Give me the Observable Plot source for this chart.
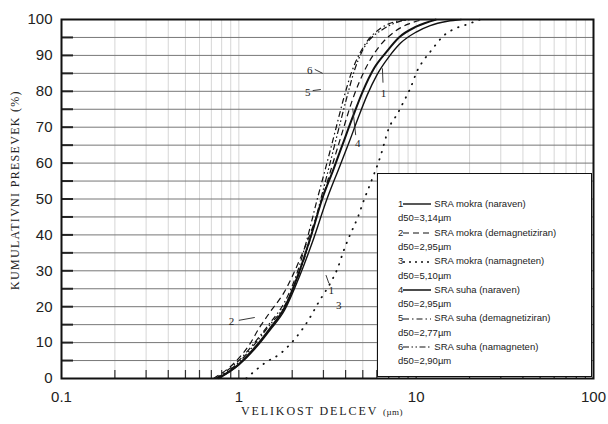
<!DOCTYPE html>
<html>
<head>
<meta charset="utf-8">
<script src="https://cdn.jsdelivr.net/npm/d3@7"></script>
<script src="https://cdn.jsdelivr.net/npm/@observablehq/plot@0.6"></script>
<style>
  html, body { margin: 0; padding: 0; background: #fff; }
  #wrap { position: relative; width: 608px; height: 424px; overflow: hidden; font-family: "Liberation Sans", Arial, sans-serif; }
  #ylab { position: absolute; left: 15px; top: 190px; transform: translate(-50%, -50%) rotate(-90deg); white-space: nowrap;
          font-family: "Liberation Serif", "Times New Roman", serif; font-size: 12px; letter-spacing: 1.3px; color: #222; }
  #xlab { position: absolute; left: 322px; top: 411px; transform: translate(-50%, -50%); white-space: nowrap;
          font-family: "Liberation Serif", "Times New Roman", serif; font-size: 12px; letter-spacing: 1.9px; color: #222; }
  #xlab small { font-size: 9px; letter-spacing: 0.5px; }
  #legend { position: absolute; left: 377px; top: 173px; width: 215px; height: 204px; background: #fff;
            border: 1.5px solid #111; box-sizing: border-box; font-size: 9.5px; color: #222; }
  .row { position: absolute; left: 20px; height: 12px; line-height: 12px; white-space: nowrap; }
  .row svg { vertical-align: middle; }
</style>
</head>
<body>
<div id="wrap">
  <div id="chart"></div>
  <div id="ylab">KUMULATIVNI PRESEVEK (%)</div>
  <div id="xlab">VELIKOST DELCEV <small>(µm)</small></div>
  <div id="legend"></div>
</div>
<script>
// ---- data ----
const seriesNames = ["1", "2", "3", "4", "5", "6"];
const legendLabels = [
  "SRA mokra (naraven)", "SRA mokra (demagnetiziran)", "SRA mokra (namagneten)",
  "SRA suha (naraven)", "SRA suha (demagnetiziran)", "SRA suha (namagneten)"
];
const d50Labels = ["d50=3,14µm", "d50=2,95µm", "d50=5,10µm", "d50=2,95µm", "d50=2,77µm", "d50=2,90µm"];

const size1 = [0.77, 1.0, 1.25, 1.5, 1.8, 2.2, 2.6, 3.14, 3.7, 4.2, 4.7, 5.3, 6.0, 7.0, 8.2, 10, 12, 15, 18];
const pct1  = [0, 3.8, 8.6, 13.5, 18.8, 28.5, 38, 50, 59, 66, 72.5, 79, 84.5, 89.5, 93.5, 96.5, 98.3, 99.5, 100];

const size2 = [0.72, 0.95, 1.15, 1.3, 1.5, 1.8, 2.2, 2.6, 2.95, 3.3, 3.8, 4.4, 5.2, 6.2, 7.5, 9, 11];
const pct2  = [0, 4.5, 9.5, 14, 18.5, 24, 33, 42, 50, 58, 68, 78, 86.5, 92.5, 96.5, 98.7, 100];

const size3 = [1.1, 1.42, 1.72, 1.9, 2.1, 2.45, 2.8, 3.4, 3.6, 3.9, 4.27, 4.68, 5.1, 5.55, 6.3, 7.0, 7.9, 8.4, 9.3, 10.2, 11, 12, 14.3, 16.6, 19, 23];
const pct3  = [0, 4.5, 7, 9, 11.4, 16, 21, 28, 30.6, 35.6, 40.4, 44.8, 50, 54.6, 62, 69.6, 74, 76.6, 81, 86, 88.6, 91, 95.5, 97.5, 98.5, 100];

const size4 = [0.76, 1.0, 1.25, 1.5, 1.8, 2.2, 2.6, 2.95, 3.4, 3.9, 4.4, 5.0, 5.8, 6.8, 8, 10, 13];
const pct4  = [0, 4, 9, 14, 19.5, 30, 41, 50, 58, 66, 73, 80, 86.5, 91, 95, 98, 100];

const size5 = [0.74, 1.0, 1.25, 1.5, 1.8, 2.1, 2.4, 2.77, 3.1, 3.5, 3.9, 4.3, 4.8, 5.3, 6.2, 7.5, 9];
const pct5  = [0, 5, 10.5, 15.5, 21, 28.5, 38, 50, 59, 69, 78, 85, 90.5, 94, 97.3, 99.3, 100];

const size6 = [0.75, 1.0, 1.25, 1.5, 1.8, 2.1, 2.5, 2.9, 3.25, 3.7, 4.1, 4.5, 5.0, 5.5, 6.5, 8, 9.5];
const pct6  = [0, 4.5, 10, 15, 20, 27, 38, 50, 59.5, 70.5, 79, 86, 91.5, 94.5, 97.3, 99.4, 100];

const xTicks = [0.1, 1, 10, 100];
const yTicks = [0, 10, 20, 30, 40, 50, 60, 70, 80, 90, 100];
const yGrid = [5, 10, 15, 20, 25, 30, 35, 40, 45, 50, 55, 60, 65, 70, 75, 80, 85, 90, 95];
const xMinor = [0.2,0.3,0.4,0.5,0.6,0.7,0.8,0.9,1,2,3,4,5,6,7,8,9,10,20,30,40,50,60,70,80,90];

// in-chart annotation labels (data coordinates)
const annotText = ["1", "4", "6", "5", "2", "1", "3"];
const annotX = [6.55, 4.68, 2.51, 2.45, 0.91, 3.32, 3.66];
const annotY = [79.5, 65.5, 85.8, 79.7, 15.9, 24.5, 20.3];
const leaderX1 = [6.45, 4.39, 2.68, 2.61, 1.0, 3.1];
const leaderY1 = [86.4, 75.2, 86.1, 80.2, 16.2, 28.8];
const leaderX2 = [6.5, 4.56, 2.97, 2.9, 1.23, 3.22];
const leaderY2 = [82.4, 67.8, 85.0, 80.5, 17.0, 26.5];

// ---- styling per series ----
const styles = {
  "1": {strokeWidth: 1.4, dash: null},
  "2": {strokeWidth: 1.2, dash: "6,4"},
  "3": {strokeWidth: 1.8, dash: "0.5,7", cap: "round"},
  "4": {strokeWidth: 2.0, dash: null},
  "5": {strokeWidth: 1.2, dash: "6,3,1.5,3"},
  "6": {strokeWidth: 1.2, dash: "6,2.5,1.5,2.5,1.5,2.5"}
};

const sizes = [size1, size2, size3, size4, size5, size6];
const pcts = [pct1, pct2, pct3, pct4, pct5, pct6];
const rows = [];
seriesNames.forEach((s, i) => sizes[i].forEach((x, j) => rows.push({series: s, x, y: pcts[i][j]})));

const annots = annotText.map((t, i) => ({t, x: annotX[i], y: annotY[i]}));
const leaders = leaderX1.map((x1, i) => ({x1, y1: leaderY1[i], x2: leaderX2[i], y2: leaderY2[i]}));

const lineMarks = seriesNames.map(s => Plot.line(rows.filter(r => r.series === s), {
  x: "x", y: "y", curve: "monotone-x", stroke: "#111",
  strokeWidth: styles[s].strokeWidth,
  strokeDasharray: styles[s].dash,
  strokeLinecap: styles[s].cap || "butt"
}));

const chart = Plot.plot({
  width: 608,
  height: 424,
  marginLeft: 61,
  marginRight: 15,
  marginTop: 19,
  marginBottom: 46,
  style: {fontFamily: "'Liberation Sans', Arial, sans-serif", fontSize: "15px", color: "#222", background: "#fff"},
  x: {type: "log", domain: [0.1, 100], ticks: xTicks, tickFormat: d => String(d), tickSize: 0, tickPadding: 13, label: null},
  y: {domain: [0, 100], ticks: yTicks, tickSize: 0, tickPadding: 9, label: null},
  marks: [
    Plot.ruleX(xMinor, {stroke: "#c4c4c4", strokeWidth: 0.7}),
    Plot.ruleY(yGrid, {stroke: "#777", strokeWidth: 1}),
    Plot.tickY(yGrid, {y: d => d, insetRight: 520, stroke: "#222", strokeWidth: 2}),
    Plot.tickX(xMinor, {x: d => d, insetTop: 351, stroke: "#333", strokeWidth: 1.2}),
    ...lineMarks,
    Plot.link(leaders, {x1: "x1", y1: "y1", x2: "x2", y2: "y2", stroke: "#222", strokeWidth: 0.9}),
    Plot.text(annots, {x: "x", y: "y", text: "t", fontSize: 11, fontFamily: "'Liberation Serif', serif", fill: "#222"}),
    Plot.frame({stroke: "#111", strokeWidth: 2})
  ]
});
document.getElementById("chart").appendChild(chart);

// ---- legend ----
const legend = document.getElementById("legend");
const rowTop0 = 24, rowStep = 14.3;
seriesNames.forEach((s, i) => {
  const st = styles[s];
  const r1 = document.createElement("div");
  r1.className = "row";
  r1.style.top = (rowTop0 + rowStep * 2 * i) + "px";
  r1.innerHTML = `<span>${s}</span><svg width="29" height="6" style="margin:0 2px 0 0"><line x1="0" y1="3" x2="28" y2="3" stroke="#111" stroke-width="${Math.min(st.strokeWidth, 1.5)}" ${st.dash ? `stroke-dasharray="${s === "3" ? "2,4" : st.dash}"` : ""}/></svg><span>${legendLabels[i]}</span>`;
  legend.appendChild(r1);
  const r2 = document.createElement("div");
  r2.className = "row";
  r2.style.top = (rowTop0 + rowStep * (2 * i + 1)) + "px";
  r2.textContent = d50Labels[i];
  legend.appendChild(r2);
});
</script>
</body>
</html>
